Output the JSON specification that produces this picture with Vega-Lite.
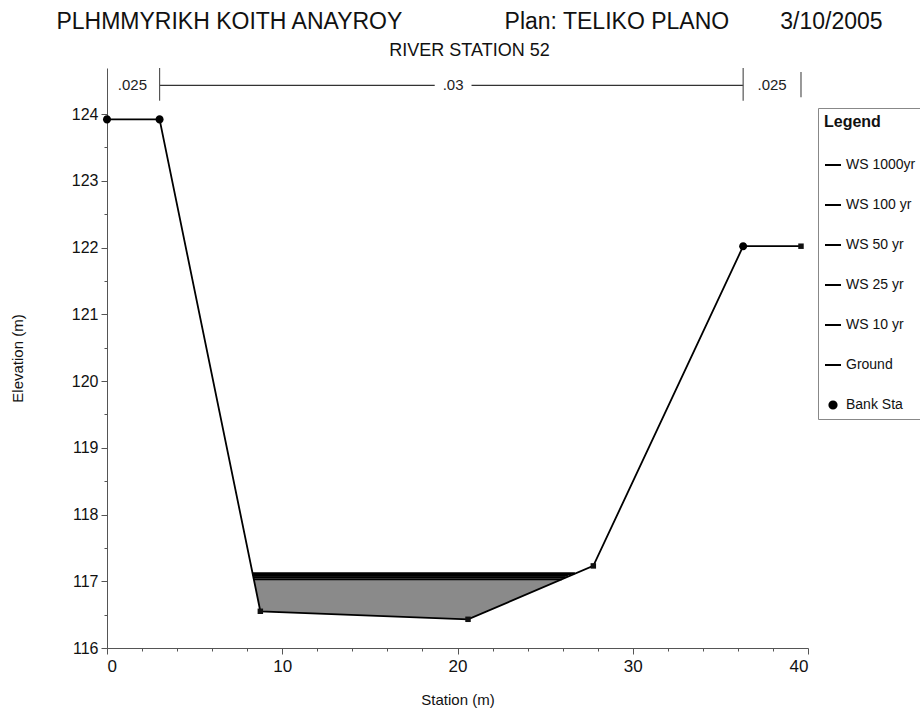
{
  "$schema": "https://vega.github.io/schema/vega-lite/v6.json",
  "width": 701,
  "height": 580,
  "autosize": {"type": "none"},
  "padding": {"left": 107, "top": 68, "right": 112, "bottom": 72},
  "background": "white",
  "config": {
    "view": {"stroke": null},
    "font": "Liberation Sans"
  },
  "title": {
    "text": "PLHMMYRIKH KOITH ANAYROY\u00a0\u00a0\u00a0\u00a0\u00a0\u00a0\u00a0\u00a0\u00a0\u00a0\u00a0\u00a0\u00a0\u00a0\u00a0\u00a0Plan: TELIKO PLANO\u00a0\u00a0\u00a0\u00a0\u00a0\u00a0\u00a0\u00a03/10/2005",
    "subtitle": "RIVER STATION 52",
    "anchor": "middle",
    "frame": "group",
    "dx": 12,
    "font": "Liberation Sans",
    "fontSize": 23,
    "fontWeight": "normal",
    "color": "#111",
    "subtitleFont": "Liberation Sans",
    "subtitleFontSize": 18,
    "subtitleColor": "#111",
    "subtitlePadding": 8,
    "offset": 7
  },
  "datasets": {
    "profile": [
      {"series": "WS 1000yr", "station": 8.30, "elev": 117.12},
      {"series": "WS 1000yr", "station": 20.6, "elev": 117.12},
      {"series": "WS 1000yr", "station": 26.7, "elev": 117.12},
      {"series": "WS 100 yr", "station": 8.32, "elev": 117.10},
      {"series": "WS 100 yr", "station": 26.5, "elev": 117.10},
      {"series": "WS 50 yr", "station": 8.33, "elev": 117.08},
      {"series": "WS 50 yr", "station": 26.3, "elev": 117.08},
      {"series": "WS 25 yr", "station": 8.35, "elev": 117.06},
      {"series": "WS 25 yr", "station": 26.15, "elev": 117.06},
      {"series": "WS 10 yr", "station": 8.38, "elev": 117.03},
      {"series": "WS 10 yr", "station": 25.96, "elev": 117.03},
      {"series": "Ground", "station": 0, "elev": 123.92},
      {"series": "Ground", "station": 3, "elev": 123.92},
      {"series": "Ground", "station": 8.75, "elev": 116.55},
      {"series": "Ground", "station": 20.6, "elev": 116.43},
      {"series": "Ground", "station": 27.75, "elev": 117.23},
      {"series": "Ground", "station": 36.3, "elev": 122.02},
      {"series": "Ground", "station": 39.6, "elev": 122.02},
      {"series": "Bank Sta", "station": 0, "elev": 123.92},
      {"series": "Bank Sta", "station": 3, "elev": 123.92},
      {"series": "Bank Sta", "station": 36.3, "elev": 122.02}
    ],
    "fill": [
      {"station": 8.38, "bottom": 117.03, "top": 117.03},
      {"station": 8.75, "bottom": 116.55, "top": 117.03},
      {"station": 20.6, "bottom": 116.43, "top": 117.03},
      {"station": 25.96, "bottom": 117.03, "top": 117.03}
    ],
    "nline": [
      {"from": 3, "to": 18.7, "elev": 124.43},
      {"from": 20.8, "to": 36.3, "elev": 124.43}
    ],
    "nvert": [
      {"station": 3, "low": 124.2, "high": 124.69},
      {"station": 36.3, "low": 124.2, "high": 124.69},
      {"station": 39.6, "low": 124.25, "high": 124.63}
    ],
    "nlabel": [
      {"station": 1.45, "elev": 124.43, "label": ".025"},
      {"station": 19.75, "elev": 124.43, "label": ".03"},
      {"station": 37.95, "elev": 124.43, "label": ".025"}
    ]
  },
  "encoding": {
    "x": {
      "field": "station",
      "type": "quantitative",
      "scale": {"domain": [0, 40], "nice": false, "zero": false},
      "axis": {
        "title": "Station (m)",
        "values": [0, 2, 4, 6, 8, 10, 12, 14, 16, 18, 20, 22, 24, 26, 28, 30, 32, 34, 36, 38, 40],
        "labelExpr": "datum.value % 10 === 0 ? format(datum.value, 'd') : ''",
        "tickSize": {"condition": {"test": "datum.value % 10 === 0", "value": 6}, "value": 3},
        "grid": false,
        "domainColor": "#555",
        "tickColor": "#555",
        "labelFont": "Liberation Sans",
        "labelFontSize": 17,
        "labelColor": "#111",
        "labelPadding": 4,
        "titleFont": "Liberation Sans",
        "titleFontSize": 15,
        "titleFontWeight": "normal",
        "titleColor": "#111",
        "titlePadding": 18
      }
    },
    "y": {
      "field": "elev",
      "type": "quantitative",
      "scale": {"domain": [116, 124.69], "nice": false, "zero": false},
      "axis": {
        "title": "Elevation (m)",
        "values": [116, 116.5, 117, 117.5, 118, 118.5, 119, 119.5, 120, 120.5, 121, 121.5, 122, 122.5, 123, 123.5, 124],
        "labelExpr": "datum.value % 1 === 0 ? format(datum.value, 'd') : ''",
        "tickSize": {"condition": {"test": "datum.value % 1 === 0", "value": 6}, "value": 3},
        "grid": false,
        "domainColor": "#555",
        "tickColor": "#555",
        "labelFont": "Liberation Sans",
        "labelFontSize": 16,
        "labelColor": "#111",
        "labelPadding": 3,
        "titleFont": "Liberation Sans",
        "titleFontSize": 15,
        "titleFontWeight": "normal",
        "titleColor": "#111",
        "titlePadding": 46
      }
    }
  },
  "layer": [
    {
      "data": {"name": "fill"},
      "mark": {"type": "area", "color": "#8a8a8a", "opacity": 1},
      "encoding": {
        "y": {"field": "bottom", "type": "quantitative"},
        "y2": {"field": "top"}
      }
    },
    {
      "data": {"name": "nline"},
      "mark": {"type": "rule", "color": "#333", "strokeWidth": 1.2},
      "encoding": {
        "x": {"field": "from", "type": "quantitative"},
        "x2": {"field": "to"},
        "y": {"field": "elev", "type": "quantitative"}
      }
    },
    {
      "data": {"name": "nvert"},
      "mark": {"type": "rule", "color": "#555", "strokeWidth": 1.2},
      "encoding": {
        "y": {"field": "low", "type": "quantitative"},
        "y2": {"field": "high"}
      }
    },
    {
      "data": {"name": "nlabel"},
      "mark": {"type": "text", "font": "Liberation Sans", "fontSize": 15, "color": "#222", "align": "center", "baseline": "middle"},
      "encoding": {
        "text": {"field": "label"}
      }
    },
    {
      "data": {"name": "profile"},
      "transform": [{"filter": "datum.series !== 'Bank Sta'"}],
      "mark": {"type": "line", "strokeWidth": 1.8},
      "encoding": {
        "color": {
          "field": "series",
          "type": "nominal",
          "scale": {
            "domain": ["WS 1000yr", "WS 100 yr", "WS 50 yr", "WS 25 yr", "WS 10 yr", "Ground", "Bank Sta"],
            "range": ["#000", "#000", "#000", "#000", "#000", "#000", "#000"]
          },
          "legend": {
            "title": "Legend",
            "orient": "none",
            "legendX": 711,
            "legendY": 40,
            "titleFont": "Liberation Sans",
            "titleFontSize": 16,
            "titleFontWeight": "bold",
            "titleColor": "#111",
            "titlePadding": 26,
            "labelFont": "Liberation Sans",
            "labelFontSize": 14,
            "labelColor": "#111",
            "labelOffset": 4,
            "symbolSize": 256,
            "symbolStrokeWidth": 2,
            "symbolFillColor": "#000",
            "rowPadding": 24,
            "padding": 6,
            "strokeColor": "#888",
            "fillColor": "white",
            "cornerRadius": 0
          }
        },
        "detail": {"field": "series"},
        "order": {"field": "station"}
      }
    },
    {
      "data": {"name": "profile"},
      "transform": [{"filter": "datum.series === 'Ground'"}],
      "mark": {"type": "point", "shape": "square", "filled": true, "size": 30, "color": "#111", "opacity": 1}
    },
    {
      "data": {"name": "profile"},
      "transform": [{"filter": "datum.series === 'Bank Sta'"}],
      "mark": {"type": "point", "filled": true, "size": 320, "opacity": 1},
      "encoding": {
        "color": {
          "field": "series",
          "type": "nominal",
          "scale": {
            "domain": ["WS 1000yr", "WS 100 yr", "WS 50 yr", "WS 25 yr", "WS 10 yr", "Ground", "Bank Sta"],
            "range": ["#000", "#000", "#000", "#000", "#000", "#000", "#000"]
          },
          "legend": {
            "title": "Legend",
            "orient": "none",
            "legendX": 711,
            "legendY": 40,
            "titleFont": "Liberation Sans",
            "titleFontSize": 16,
            "titleFontWeight": "bold",
            "titleColor": "#111",
            "titlePadding": 26,
            "labelFont": "Liberation Sans",
            "labelFontSize": 14,
            "labelColor": "#111",
            "labelOffset": 4,
            "symbolSize": 256,
            "symbolStrokeWidth": 2,
            "symbolFillColor": "#000",
            "rowPadding": 24,
            "padding": 6,
            "strokeColor": "#888",
            "fillColor": "white",
            "cornerRadius": 0
          }
        },
        "shape": {
          "field": "series",
          "type": "nominal",
          "scale": {
            "domain": ["WS 1000yr", "WS 100 yr", "WS 50 yr", "WS 25 yr", "WS 10 yr", "Ground", "Bank Sta"],
            "range": ["stroke", "stroke", "stroke", "stroke", "stroke", "stroke", "M-0.45,0A0.45,0.45 0 1,1 0.45,0A0.45,0.45 0 1,1 -0.45,0Z"]
          },
          "legend": {
            "title": "Legend",
            "orient": "none",
            "legendX": 711,
            "legendY": 40,
            "titleFont": "Liberation Sans",
            "titleFontSize": 16,
            "titleFontWeight": "bold",
            "titleColor": "#111",
            "titlePadding": 26,
            "labelFont": "Liberation Sans",
            "labelFontSize": 14,
            "labelColor": "#111",
            "labelOffset": 4,
            "symbolSize": 256,
            "symbolStrokeWidth": 2,
            "symbolFillColor": "#000",
            "rowPadding": 24,
            "padding": 6,
            "strokeColor": "#888",
            "fillColor": "white",
            "cornerRadius": 0
          }
        }
      }
    }
  ]
}
